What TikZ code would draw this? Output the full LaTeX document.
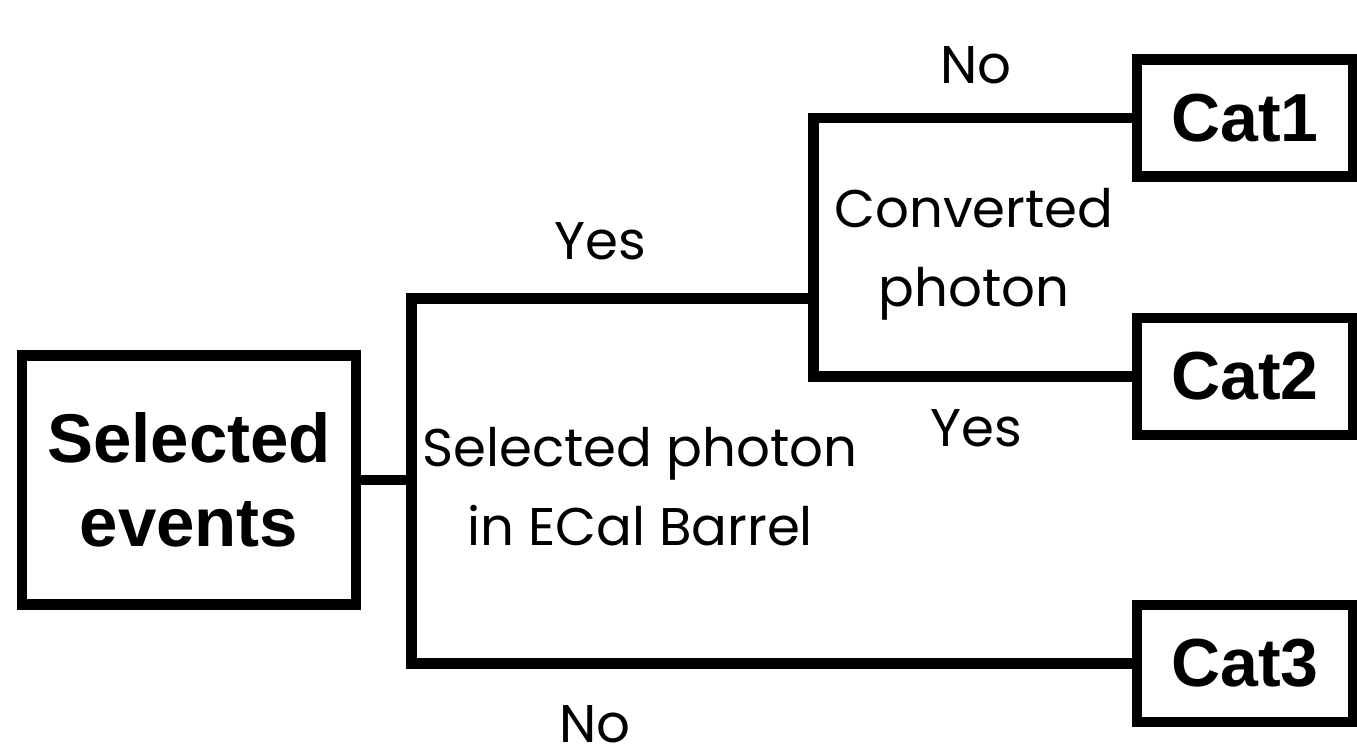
\documentclass[tikz,border=0pt]{standalone}
\usepackage{fontspec}
\setmainfont{Liberation Sans}
\newfontfamily\lblfont{Poppins}
\begin{document}
\begin{tikzpicture}[x=1pt,y=-1pt,
  catbox/.style={draw=black,line width=10.5pt,rectangle,inner sep=0pt,outer sep=0pt,
    font=\fontsize{68}{80}\selectfont\bfseries,minimum width=216pt,minimum height=117pt},
  wire/.style={draw=black,line width=10.5pt,line join=miter,line cap=butt},
  lbl/.style={font=\lblfont\fontsize{53}{79}\selectfont,inner sep=0pt,align=center}]
\useasboundingbox (0,0) rectangle (1357,755);
\node[catbox,minimum width=334pt,minimum height=249pt,font=\fontsize{69}{84}\selectfont\bfseries,align=center] (sel) at (189,480) {Selected\\events};
\node[catbox] (cat1) at (1245,118) {Cat1};
\node[catbox] (cat2) at (1245,376.5) {Cat2};
\node[catbox] (cat3) at (1245,663.5) {Cat3};
\coordinate (j1) at (411.5,480);
\coordinate (ja) at (411.5,298.5);
\coordinate (jb) at (411.5,663.5);
\coordinate (k1) at (813.5,298.5);
\coordinate (ka) at (813.5,118);
\coordinate (kb) at (813.5,376.5);
\draw[wire] (sel.east) -- (j1);
\draw[wire] (k1) -- (ja) -- (jb) -- (cat3.west);
\draw[wire] (cat1.west) -- (ka) -- (kb) -- (cat2.west);
\node[lbl,anchor=base] (no1) at (976,83) {No};
\node[lbl,anchor=base] (yes1) at (600,259) {Yes};
\node[lbl] (conv) at (974,254) {Converted\\photon};
\node[lbl,anchor=base] (yes2) at (976,446) {Yes};
\node[lbl] (selph) at (640,487) {Selected photon\\in ECal Barrel};
\node[lbl,anchor=base] (no2) at (595,742) {No};
\end{tikzpicture}
\end{document}
